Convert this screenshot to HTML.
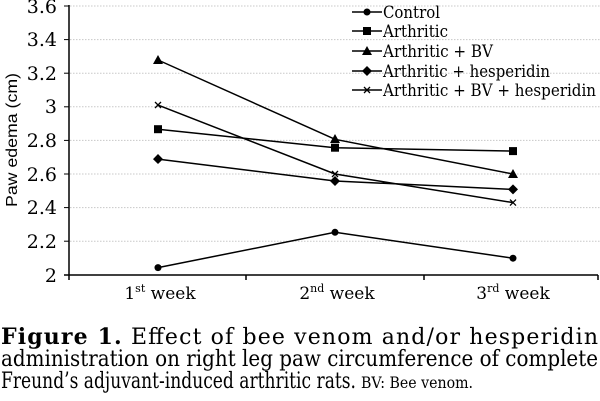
<!DOCTYPE html>
<html><head><meta charset="utf-8"><style>
html,body{margin:0;padding:0;background:#fff;}
svg{display:block;font-family:"DejaVu Serif",serif;}
</style></head><body>
<svg width="600" height="401" viewBox="0 0 600 401" xmlns="http://www.w3.org/2000/svg">
<g stroke="#c8c8c8" stroke-width="1" stroke-dasharray="1.5,1.5">
<line x1="70" x2="600" y1="6" y2="6"/><line x1="70" x2="600" y1="39.6" y2="39.6"/>
<line x1="70" x2="600" y1="73.2" y2="73.2"/><line x1="70" x2="600" y1="106.8" y2="106.8"/>
<line x1="70" x2="600" y1="140.4" y2="140.4"/><line x1="70" x2="600" y1="174" y2="174"/>
<line x1="70" x2="600" y1="207.6" y2="207.6"/><line x1="70" x2="600" y1="241.2" y2="241.2"/>
</g>
<g stroke="#000" stroke-width="1.5" fill="none">
<line x1="69" y1="5" x2="69" y2="280"/>
<line x1="64" y1="275" x2="598" y2="275"/>
<line x1="246" y1="275" x2="246" y2="280"/><line x1="424" y1="275" x2="424" y2="280"/><line x1="598" y1="275" x2="598" y2="280"/>
<g stroke-width="1">
<line x1="64" x2="69" y1="6" y2="6"/><line x1="64" x2="69" y1="39.6" y2="39.6"/><line x1="64" x2="69" y1="73.2" y2="73.2"/>
<line x1="64" x2="69" y1="106.8" y2="106.8"/><line x1="64" x2="69" y1="140.4" y2="140.4"/><line x1="64" x2="69" y1="174" y2="174"/>
<line x1="64" x2="69" y1="207.6" y2="207.6"/><line x1="64" x2="69" y1="241.2" y2="241.2"/>
</g>
<polyline points="158,267.6 335,232.3 513,258.2"/>
<polyline points="158,129.2 335,147.7 513,151.1"/>
<polyline points="158,60.0 335,139.3 513,174"/>
<polyline points="158,159.1 335,181.0 513,189.4"/>
<polyline points="158,105.1 335,174 513,202.6"/>
</g>
<g fill="#000">
<circle cx="158" cy="267.6" r="3.5"/><circle cx="335" cy="232.3" r="3.5"/><circle cx="513" cy="258.2" r="3.5"/>
<rect x="154" y="125.2" width="8" height="8"/><rect x="331" y="143.7" width="8" height="8"/><rect x="509" y="147.1" width="8" height="8"/>
<polygon points="158,55 163,64 153,64"/><polygon points="335,134 340,143 330,143"/><polygon points="513,169 518,178 508,178"/>
<polygon points="158,154 163,159.1 158,164 153,159.1"/><polygon points="335,176 340,181 335,186 330,181"/><polygon points="513,184.4 518,189.4 513,194.4 508,189.4"/>
</g>
<g stroke="#000" stroke-width="1.3">
<path d="M155,102 l6,6 M161,102 l-6,6"/><path d="M332,171 l6,6 M338,171 l-6,6"/><path d="M510,199.6 l6,6 M516,199.6 l-6,6"/>
</g>
<g stroke="#000" stroke-width="1.5">
<line x1="352" x2="382" y1="12" y2="12"/><line x1="352" x2="382" y1="31" y2="31"/><line x1="352" x2="382" y1="51" y2="51"/><line x1="352" x2="382" y1="71" y2="71"/><line x1="352" x2="382" y1="90" y2="90"/>
<path d="M364,87 l6,6 M370,87 l-6,6" stroke-width="1.3"/>
</g>
<g fill="#000">
<circle cx="367" cy="12" r="3.5"/><rect x="363" y="27" width="8" height="8"/><polygon points="367,46 372,55 362,55"/><polygon points="367,66 372,71 367,76 362,71"/>
</g>
<g font-size="17" fill="#000">
<text x="383" y="18" textLength="57" lengthAdjust="spacingAndGlyphs">Control</text>
<text x="383" y="37" textLength="65" lengthAdjust="spacingAndGlyphs">Arthritic</text>
<text x="383" y="57" textLength="110" lengthAdjust="spacingAndGlyphs">Arthritic + BV</text>
<text x="383" y="77" textLength="167" lengthAdjust="spacingAndGlyphs">Arthritic + hesperidin</text>
<text x="383" y="96" textLength="213" lengthAdjust="spacingAndGlyphs">Arthritic + BV + hesperidin</text>
</g>
<g font-size="19" fill="#000" text-anchor="end">
<text x="57" y="13">3.6</text><text x="57" y="46">3.4</text><text x="57" y="80">3.2</text><text x="57" y="113">3</text>
<text x="57" y="147">2.8</text><text x="57" y="181">2.6</text><text x="57" y="214">2.4</text><text x="57" y="248">2.2</text><text x="57" y="282">2</text>
</g>
<text transform="translate(17,140) rotate(-90)" font-size="16" text-anchor="middle" textLength="134" lengthAdjust="spacingAndGlyphs" font-family="Liberation Sans, sans-serif">Paw edema (cm)</text>
<g font-size="17" text-anchor="middle">
<text x="160" y="299">1<tspan font-size="11" dy="-7">st</tspan><tspan dy="7"> week</tspan></text>
<text x="337" y="299">2<tspan font-size="11" dy="-7">nd</tspan><tspan dy="7"> week</tspan></text>
<text x="513" y="299">3<tspan font-size="11" dy="-7">rd</tspan><tspan dy="7"> week</tspan></text>
</g>
<g font-size="22">
<text x="1" y="344" textLength="597" lengthAdjust="spacing"><tspan font-weight="bold">Figure 1.</tspan> Effect of bee venom and/or hesperidin</text>
<text x="1" y="366" textLength="597" lengthAdjust="spacingAndGlyphs">administration on right leg paw circumference of complete</text>
<text x="1" y="388" textLength="355" lengthAdjust="spacingAndGlyphs">Freund’s adjuvant-induced arthritic rats.</text>
<text x="361" y="388" font-size="16" textLength="112" lengthAdjust="spacingAndGlyphs">BV: Bee venom.</text>
</g>
</svg>
</body></html>
